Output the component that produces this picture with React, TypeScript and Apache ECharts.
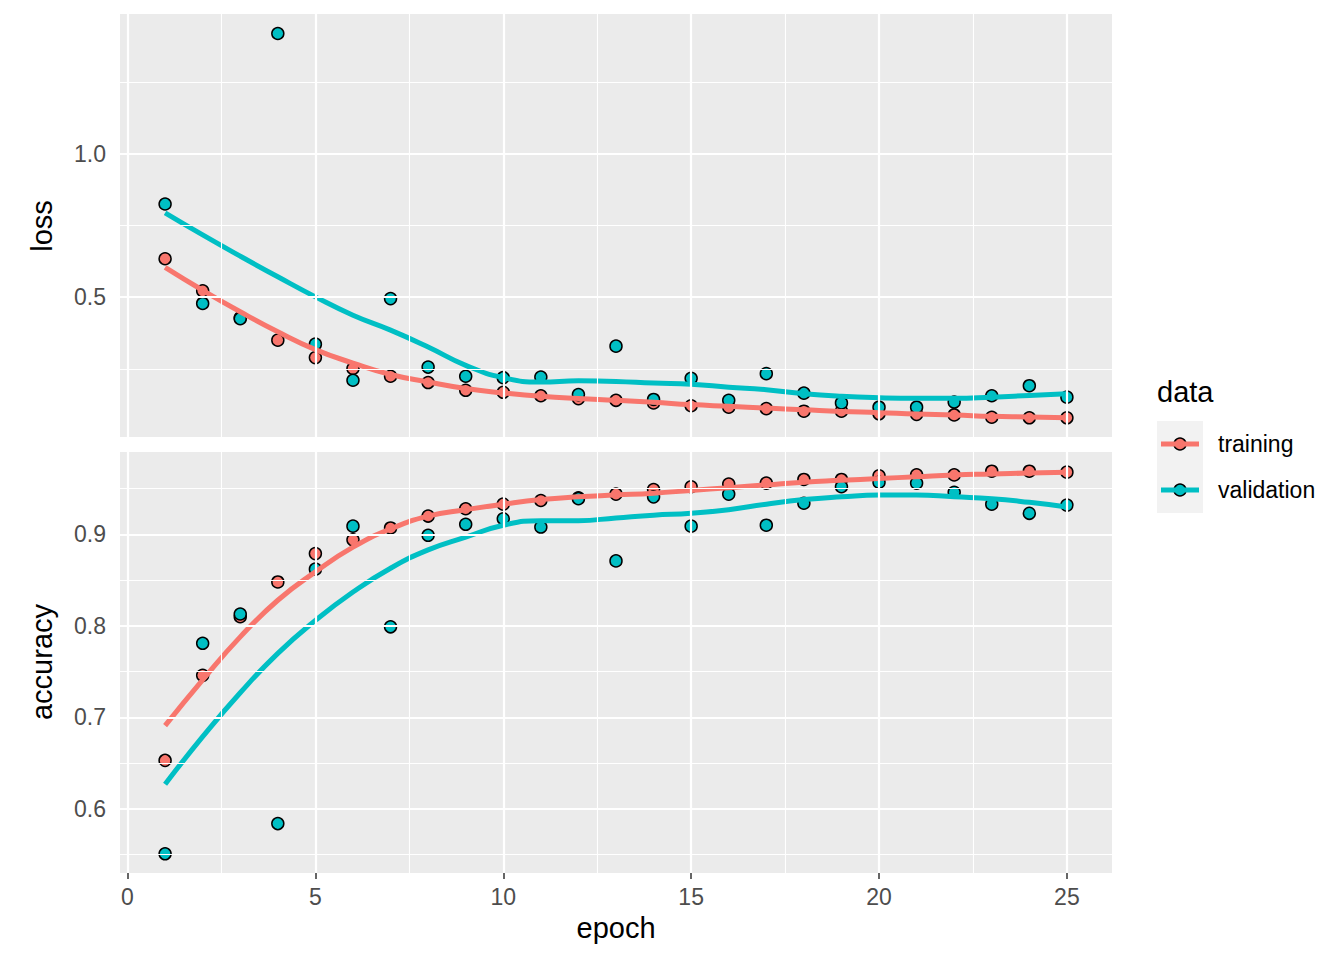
import React, { useEffect, useRef } from "react";
import * as echarts from "echarts";

const epochs = [1, 2, 3, 4, 5, 6, 7, 8, 9, 10, 11, 12, 13, 14, 15, 16, 17, 18, 19, 20, 21, 22, 23, 24, 25];

const lossTraining = [0.634, 0.522, 0.428, 0.350, 0.289, 0.251, 0.224, 0.202, 0.175, 0.168, 0.156, 0.146, 0.140, 0.131, 0.121, 0.116, 0.111, 0.102, 0.102, 0.093, 0.091, 0.089, 0.081, 0.079, 0.079];
const lossValidation = [0.825, 0.478, 0.425, 1.420, 0.336, 0.210, 0.495, 0.256, 0.224, 0.219, 0.221, 0.160, 0.329, 0.143, 0.217, 0.140, 0.233, 0.165, 0.131, 0.116, 0.116, 0.134, 0.156, 0.191, 0.151];
const accTraining = [0.653, 0.746, 0.810, 0.848, 0.879, 0.894, 0.907, 0.920, 0.928, 0.933, 0.937, 0.940, 0.944, 0.949, 0.952, 0.955, 0.956, 0.960, 0.960, 0.964, 0.965, 0.965, 0.969, 0.969, 0.968];
const accValidation = [0.551, 0.781, 0.813, 0.584, 0.862, 0.909, 0.799, 0.899, 0.911, 0.917, 0.908, 0.939, 0.871, 0.941, 0.909, 0.944, 0.910, 0.934, 0.952, 0.957, 0.956, 0.946, 0.933, 0.923, 0.932];

const lossTrainingSmooth = [0.604, 0.524, 0.449, 0.379, 0.317, 0.270, 0.230, 0.204, 0.181, 0.166, 0.154, 0.146, 0.140, 0.133, 0.125, 0.119, 0.113, 0.107, 0.101, 0.097, 0.092, 0.089, 0.084, 0.082, 0.079];
const lossValidationSmooth = [0.794, 0.717, 0.643, 0.571, 0.501, 0.437, 0.385, 0.326, 0.262, 0.219, 0.204, 0.208, 0.206, 0.200, 0.196, 0.186, 0.177, 0.163, 0.154, 0.149, 0.147, 0.147, 0.151, 0.157, 0.163];
const accTrainingSmooth = [0.691, 0.741, 0.788, 0.828, 0.859, 0.886, 0.906, 0.920, 0.927, 0.933, 0.938, 0.941, 0.943, 0.945, 0.948, 0.951, 0.954, 0.957, 0.959, 0.961, 0.963, 0.965, 0.966, 0.967, 0.968];
const accValidationSmooth = [0.627, 0.679, 0.727, 0.770, 0.806, 0.837, 0.863, 0.883, 0.897, 0.910, 0.915, 0.915, 0.918, 0.921, 0.923, 0.927, 0.933, 0.938, 0.941, 0.943, 0.943, 0.941, 0.939, 0.935, 0.930];

const xMajorTicks = [0, 5, 10, 15, 20, 25];
const xMinorTicks = [2.5, 7.5, 12.5, 17.5, 22.5];
const lossMajorTicks = [0.5, 1.0];
const lossMinorTicks = [0.25, 0.75, 1.25];
const accMajorTicks = [0.6, 0.7, 0.8, 0.9];
const accMinorTicks = [0.55, 0.65, 0.75, 0.85, 0.95];

const seriesNames = ["training", "validation"];
const colors = ["#F8766D", "#00BFC4"];

const FONT = "'Liberation Sans', Arial, Helvetica, sans-serif";

function pairs(ys: number[]) {
  return epochs.map((e, i) => [e, ys[i]]);
}

function gridLines(yMajor: number[], yMinor: number[]) {
  return [
    ...xMinorTicks.map((v) => ({ xAxis: v, lineStyle: { width: 1.1 } })),
    ...yMinor.map((v) => ({ yAxis: v, lineStyle: { width: 1.1 } })),
    ...xMajorTicks.map((v) => ({ xAxis: v, lineStyle: { width: 2.2 } })),
    ...yMajor.map((v) => ({ yAxis: v, lineStyle: { width: 2.2 } })),
  ];
}

export default function App() {
  const ref = useRef<HTMLDivElement>(null);

  useEffect(() => {
    if (!ref.current) return;
    const chart = echarts.init(ref.current, undefined, { renderer: "svg" });

    const grids = [
      { left: 120, top: 14, width: 992, height: 423 },
      { left: 120, top: 452, width: 992, height: 421 },
    ];

    const baseX = {
      type: "value" as const,
      min: -0.2,
      max: 26.2,
      axisLine: { show: false },
      splitLine: { show: false },
    };

    const yAxisCommon = (min: number, max: number, ticks: number[], gridIndex: number) => ({
      type: "value" as const,
      gridIndex,
      min,
      max,
      axisLine: { show: false },
      splitLine: { show: false },
      axisTick: {
        show: true,
        customValues: ticks,
        length: 6,
        lineStyle: { color: "#333333", width: 1.5 },
      },
      axisLabel: {
        show: true,
        customValues: ticks,
        margin: 14,
        fontSize: 23,
        color: "#4D4D4D",
        fontFamily: FONT,
        formatter: (v: number) => v.toFixed(1),
      },
    });

    const scatter = (data: number[], idx: number, axisIdx: number) => ({
      type: "scatter",
      name: seriesNames[idx],
      xAxisIndex: axisIdx,
      yAxisIndex: axisIdx,
      data: pairs(data),
      symbol: "circle",
      symbolSize: 12,
      z: 3,
      silent: true,
      itemStyle: { color: colors[idx], borderColor: "#000000", borderWidth: 1.5, opacity: 1 },
    });

    const smooth = (data: number[], idx: number, axisIdx: number) => ({
      type: "line",
      name: seriesNames[idx] + " smooth",
      xAxisIndex: axisIdx,
      yAxisIndex: axisIdx,
      data: pairs(data),
      smooth: true,
      showSymbol: false,
      symbol: "none",
      z: 4,
      silent: true,
      lineStyle: { color: colors[idx], width: 5 },
    });

    const gridSeries = (axisIdx: number, yMajor: number[], yMinor: number[]) => ({
      type: "line",
      name: "grid" + axisIdx,
      xAxisIndex: axisIdx,
      yAxisIndex: axisIdx,
      data: [],
      z: 1,
      silent: true,
      markLine: {
        silent: true,
        symbol: ["none", "none"],
        label: { show: false },
        emphasis: { disabled: true },
        lineStyle: { color: "#FFFFFF", type: "solid", width: 2.2 },
        data: gridLines(yMajor, yMinor),
      },
    });

    const option = {
      animation: false,
      textStyle: { fontFamily: FONT },
      grid: grids.map((g) => ({
        ...g,
        show: true,
        backgroundColor: "#EBEBEB",
        borderWidth: 0,
        containLabel: false,
      })),
      xAxis: [
        {
          ...baseX,
          gridIndex: 0,
          axisTick: { show: false },
          axisLabel: { show: false },
        },
        {
          ...baseX,
          gridIndex: 1,
          axisTick: {
            show: true,
            customValues: xMajorTicks,
            length: 6,
            lineStyle: { color: "#333333", width: 1.5 },
          },
          axisLabel: {
            show: true,
            customValues: xMajorTicks,
            margin: 12,
            fontSize: 23,
            color: "#4D4D4D",
            fontFamily: FONT,
          },
        },
      ],
      yAxis: [
        yAxisCommon(0.012, 1.488, lossMajorTicks, 0),
        yAxisCommon(0.53, 0.99, accMajorTicks, 1),
      ],
      series: [
        gridSeries(0, lossMajorTicks, lossMinorTicks),
        gridSeries(1, accMajorTicks, accMinorTicks),
        scatter(lossTraining, 0, 0),
        scatter(lossValidation, 1, 0),
        smooth(lossTrainingSmooth, 0, 0),
        smooth(lossValidationSmooth, 1, 0),
        scatter(accTraining, 0, 1),
        scatter(accValidation, 1, 1),
        smooth(accTrainingSmooth, 0, 1),
        smooth(accValidationSmooth, 1, 1),
      ],
      graphic: [
        {
          type: "text",
          x: 42,
          y: 226,
          rotation: Math.PI / 2,
          style: { text: "loss", fontSize: 29, fill: "#000000", fontFamily: FONT, align: "center", verticalAlign: "middle" },
        },
        {
          type: "text",
          x: 42,
          y: 662,
          rotation: Math.PI / 2,
          style: { text: "accuracy", fontSize: 29, fill: "#000000", fontFamily: FONT, align: "center", verticalAlign: "middle" },
        },
        {
          type: "text",
          x: 616,
          y: 928,
          style: { text: "epoch", fontSize: 29, fill: "#000000", fontFamily: FONT, align: "center", verticalAlign: "middle" },
        },
        {
          type: "text",
          x: 1157,
          y: 392,
          style: { text: "data", fontSize: 29, fill: "#000000", fontFamily: FONT, align: "left", verticalAlign: "middle" },
        },
        {
          type: "rect",
          shape: { x: 1157, y: 421, width: 46, height: 92 },
          style: { fill: "#F2F2F2" },
        },
        ...seriesNames.flatMap((name, i) => {
          const cy = 444 + i * 46;
          return [
            {
              type: "circle",
              shape: { cx: 1180, cy, r: 6 },
              style: { fill: colors[i], stroke: "#000000", lineWidth: 1.5 },
            },
            {
              type: "line",
              shape: { x1: 1161, y1: cy, x2: 1199, y2: cy },
              style: { stroke: colors[i], lineWidth: 5 },
            },
            {
              type: "text",
              x: 1218,
              y: cy,
              style: { text: name, fontSize: 23, fill: "#000000", fontFamily: FONT, align: "left", verticalAlign: "middle" },
            },
          ];
        }),
      ],
    };

    chart.setOption(option as any);
    return () => chart.dispose();
  }, []);

  return (
    <div
      ref={ref}
      style={{ position: "absolute", left: 0, top: 0, width: 1344, height: 960, background: "#FFFFFF" }}
    />
  );
}
